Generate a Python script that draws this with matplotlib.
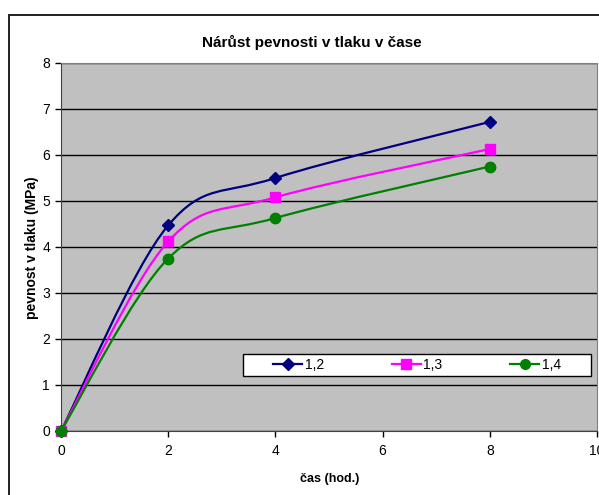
import matplotlib
matplotlib.use('Agg')
import matplotlib.pyplot as plt
import numpy as np
from matplotlib.path import Path
from matplotlib.patches import PathPatch, Rectangle
from matplotlib.lines import Line2D

plt.rcParams['font.family'] = ['Liberation Sans', 'DejaVu Sans']

cas = [0, 2, 4, 8]
pevnost_12 = [0, 4.47, 5.50, 6.72]
pevnost_13 = [0, 4.12, 5.08, 6.13]
pevnost_14 = [0, 3.75, 4.63, 5.75]
series_names = ['1,2', '1,3', '1,4']
colors = ['#000080', '#FF00FF', '#008000']
markers = ['D', 's', 'o']
marker_sizes = [6.5, 7, 7.5]


def smooth_path(x, y):
    # Excel-like smoothed line: cubic bezier through the points
    pts = np.column_stack([x, y]).astype(float)
    n = len(pts)
    verts = [pts[0]]
    codes = [Path.MOVETO]
    for i in range(n - 1):
        p_prev = pts[max(i - 1, 0)]
        p0 = pts[i]
        p1 = pts[i + 1]
        p_next = pts[min(i + 2, n - 1)]
        c1 = p0 + (p1 - p_prev) / 6.0
        c2 = p1 - (p_next - p0) / 6.0
        verts += [c1, c2, p1]
        codes += [Path.CURVE4] * 3
    return Path(verts, codes)


fig = plt.figure(figsize=(5.99, 4.95), dpi=100)
fig.patch.set_facecolor('white')

# outer chart border
fig.patches.append(Rectangle((9 / 599, -0.1), 1.0, 1 - 15 / 495 + 0.1,
                             transform=fig.transFigure, fill=False,
                             edgecolor='#202020', linewidth=1.4))

ax = fig.add_axes([61 / 599, 1 - 431 / 495, 536 / 599, 368 / 495])
ax.set_facecolor('#C0C0C0')

for vals, c, m, ms in zip([pevnost_12, pevnost_13, pevnost_14], colors, markers, marker_sizes):
    ax.add_patch(PathPatch(smooth_path(cas, vals), fill=False, edgecolor=c,
                           linewidth=1.6, zorder=3))
    ax.plot(cas, vals, linestyle='none', marker=m, color=c, markersize=ms,
            clip_on=False, zorder=4)

ax.set_xlim(0, 10)
ax.set_ylim(0, 8)
ax.set_xticks(range(0, 11, 2))
ax.set_yticks(range(0, 9))
ax.yaxis.grid(True, color='black', linewidth=1.0)
ax.set_axisbelow(True)
ax.tick_params(direction='out', length=4.5, width=1, labelsize=10, colors='black')
ax.tick_params(axis='x', pad=5)
ax.tick_params(axis='y', pad=3.5)
for side in ['top', 'right']:
    ax.spines[side].set_color('#808080')
for side in ['left', 'bottom']:
    ax.spines[side].set_color('#404040')

fig.text(312 / 599, 1 - 42 / 495, 'Nárůst pevnosti v tlaku v čase',
         ha='center', va='center', fontsize=11, fontweight='bold')
fig.text(32 / 599, 1 - 248 / 495, 'pevnost v tlaku (MPa)', rotation=90,
         ha='center', va='center', fontsize=10, fontweight='bold')
fig.text(330 / 599, 1 - 479 / 495, 'čas (hod.)',
         ha='center', va='center', fontsize=9, fontweight='bold')

# legend box
ax.add_patch(Rectangle(((243 - 61) / 536, (431 - 376) / 368),
                       (591 - 243) / 536, 22 / 368, transform=ax.transAxes,
                       facecolor='white', edgecolor='black', linewidth=1.0,
                       zorder=5))
handles = [Line2D([], [], color=c, marker=m, markersize=ms - 0.5, linewidth=1.6)
           for c, m, ms in zip(colors, markers, marker_sizes)]
leg = ax.legend(handles, series_names, ncol=3, frameon=False, loc='center',
                bbox_to_anchor=((417 - 61) / 536, (431 - 365) / 368),
                fontsize=10, handlelength=2.1, handletextpad=0.15,
                columnspacing=4.9, borderpad=0, borderaxespad=0)
leg.set_zorder(6)

fig.savefig('out.png', dpi=100)
